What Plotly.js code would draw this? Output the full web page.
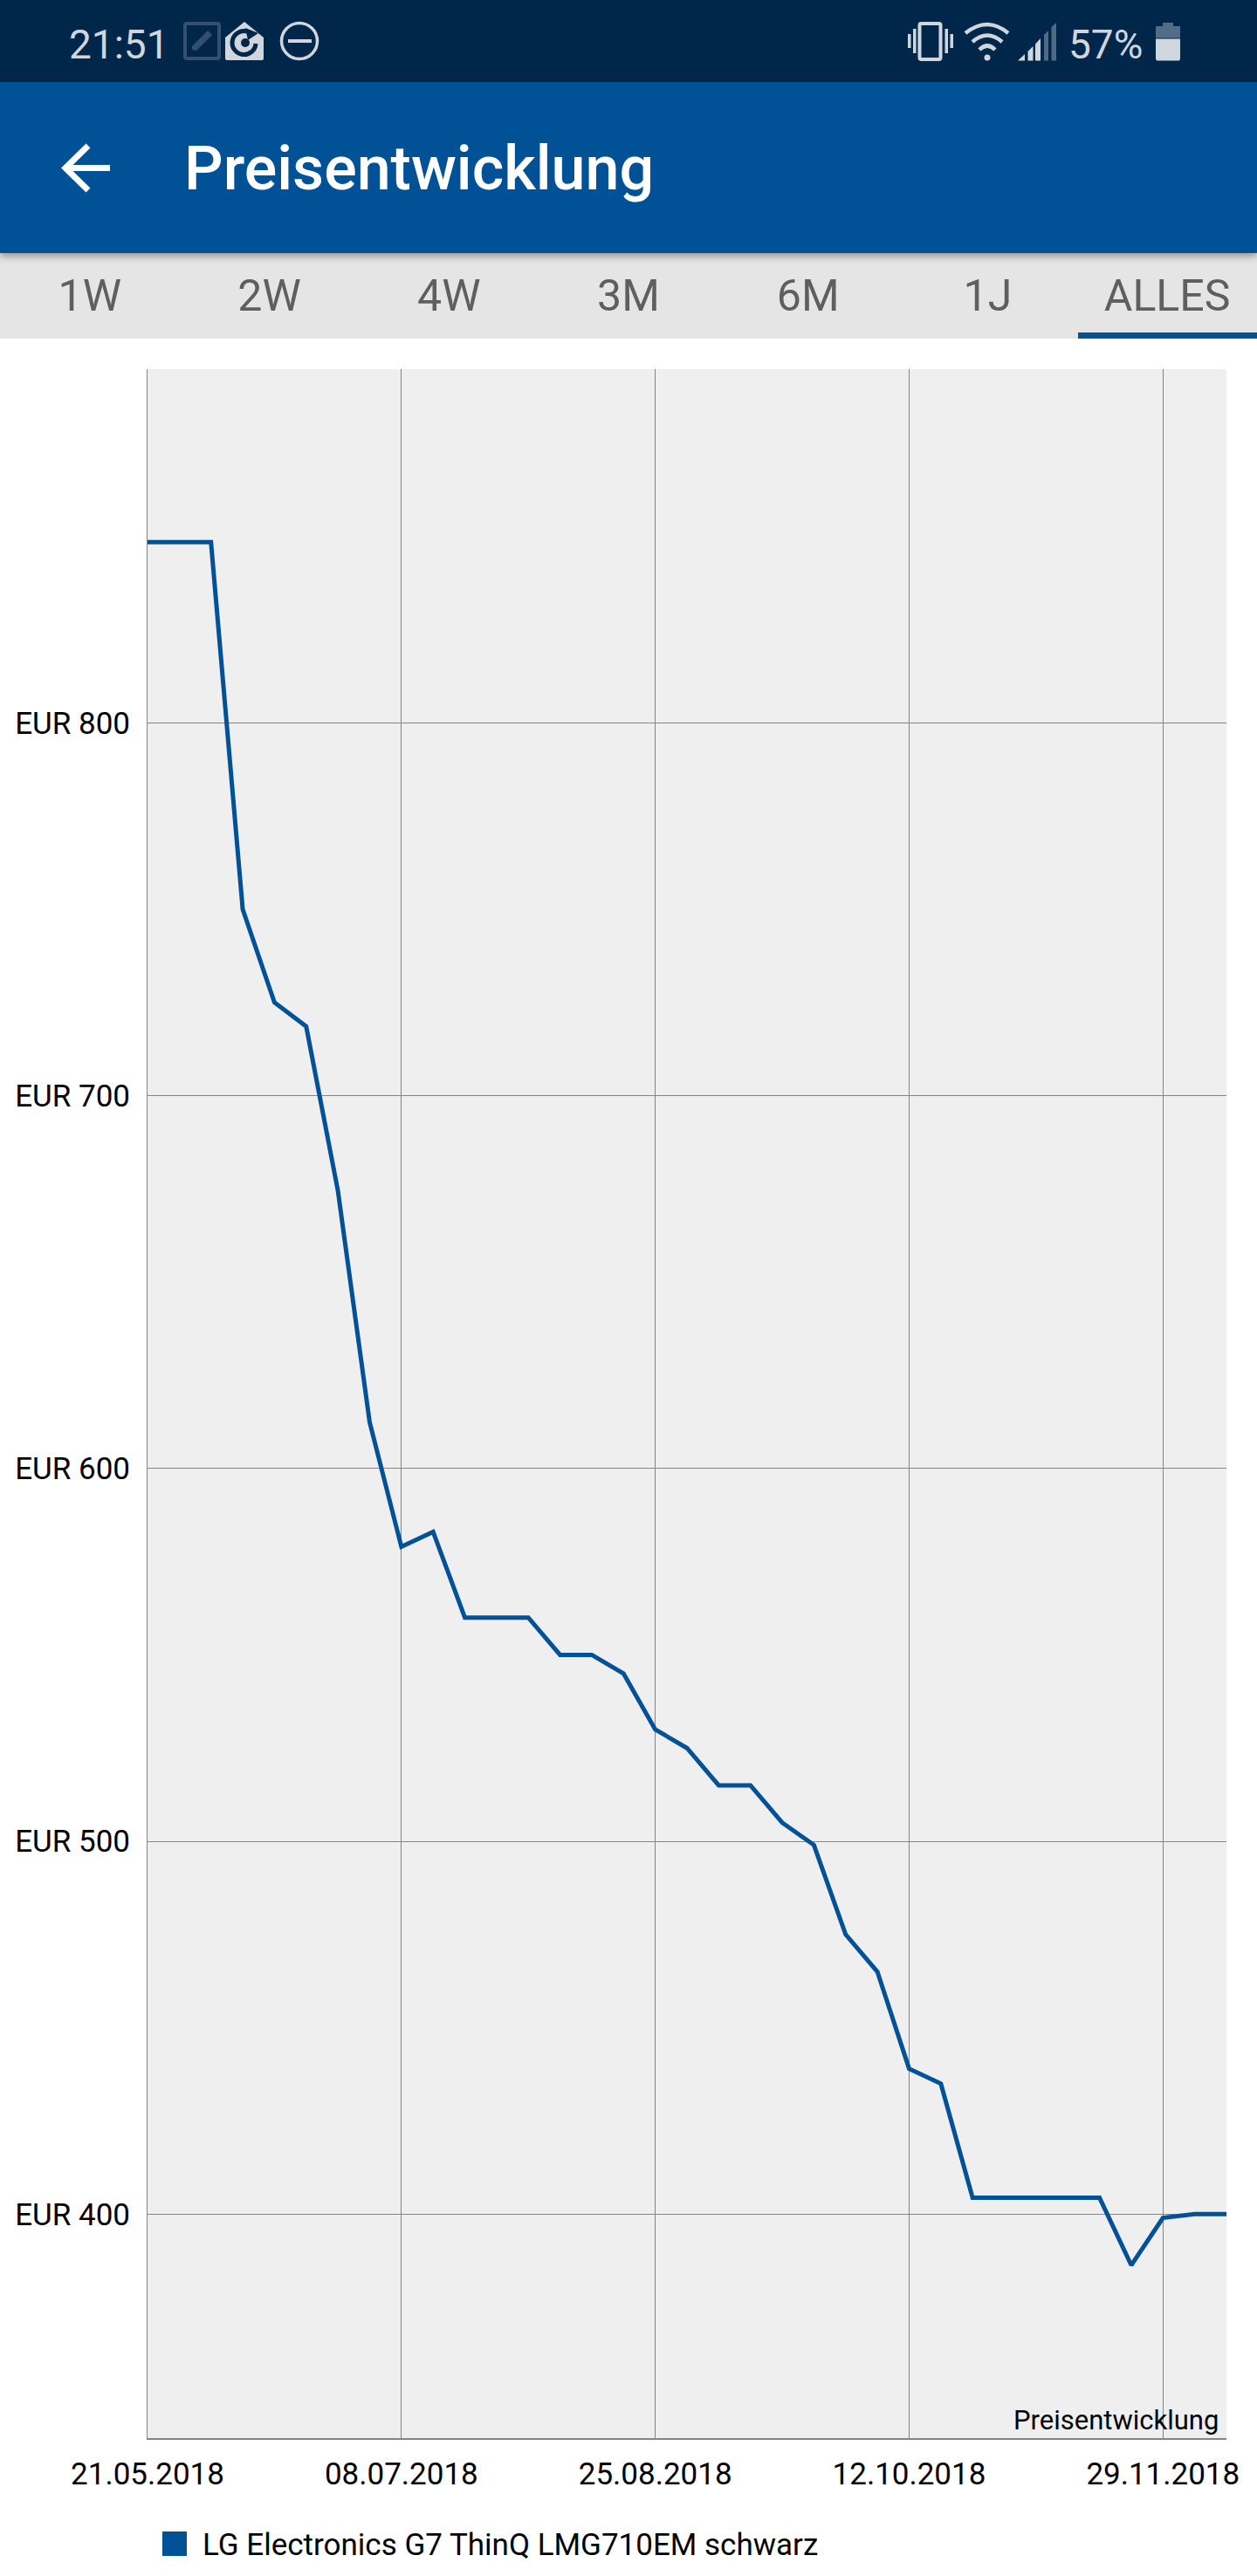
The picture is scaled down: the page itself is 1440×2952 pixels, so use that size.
<!DOCTYPE html>
<html lang="de">
<head>
<meta charset="utf-8">
<script src="https://cdn.plot.ly/plotly-3.0.1.min.js"></script>
<style>
html,body{margin:0;padding:0;background:#fff;width:1440px;height:2952px;overflow:hidden;font-family:Roboto,sans-serif}
.abs{position:absolute}
#status{left:0;top:0;width:1440px;height:94px;background:#00264a;z-index:3}
#bar{left:0;top:94px;width:1440px;height:196px;background:#005196;box-shadow:0 3px 9px rgba(0,0,0,.4);z-index:2}
#tabs{left:0;top:290px;width:1440px;height:98px;background:#e5e5e5;z-index:1}
.tab{position:absolute;top:0;height:98px;width:205.7px;text-align:center;font-size:50px;line-height:98px;color:#5f5f5f;white-space:nowrap}
#under{position:absolute;right:0;top:91px;width:205px;height:7px;background:#005196}
#title{position:absolute;left:211px;top:54px;color:#fff;font-size:70px;font-weight:500;line-height:90px;white-space:nowrap}
.st{position:absolute;color:#cfd6de;font-size:46px;line-height:54px;top:24px;white-space:nowrap}
#chart{left:0;top:0;width:1440px;height:2952px;z-index:0}
</style>
</head>
<body>
<div id="chart" class="abs"></div>
<div id="status" class="abs">
  <div class="st" style="left:79px">21:51</div>
  <div class="st" style="left:1224px">57%</div>
  <svg width="1440" height="94" style="position:absolute;left:0;top:0">
    <rect x="212" y="27" width="39" height="40" rx="2" fill="none" stroke="#34506d" stroke-width="4"/>
    <path d="M220 57 L220 53 L238 35 L243 40 L225 58 Z" fill="#34506d"/>
    <path d="M258 43 L280 25 L302 43 L302 67 Q302 69 300 69 L260 69 Q258 69 258 67 Z" fill="#cfd6de"/>
    <path d="M293 50 A13.5 13.5 0 1 1 283 36" fill="none" stroke="#00264a" stroke-width="5"/>
    <path d="M281 32 L296 38 L284 46 Z" fill="#00264a"/>
    <circle cx="281" cy="49" r="5" fill="#00264a"/>
    <circle cx="343" cy="47" r="20.5" fill="none" stroke="#cfd6de" stroke-width="3.5"/>
    <rect x="330" y="45" width="27" height="4" fill="#cfd6de"/>
    <rect x="1053.5" y="27" width="24" height="41" rx="2" fill="none" stroke="#cfd6de" stroke-width="4"/>
    <rect x="1040" y="39" width="3.5" height="16" fill="#cfd6de"/><rect x="1046" y="33" width="3.5" height="28" fill="#cfd6de"/>
    <rect x="1082.5" y="33" width="3.5" height="28" fill="#cfd6de"/><rect x="1088.5" y="39" width="3.5" height="16" fill="#cfd6de"/>
    <g fill="none" stroke="#cfd6de" stroke-width="4.5">
      <path d="M1106 38 Q1131 18 1155 38"/><path d="M1114 48 Q1131 33 1148 48"/><path d="M1122 57 Q1131 48 1140 57"/>
    </g>
    <circle cx="1131" cy="66" r="3.5" fill="#cfd6de"/>
    <path d="M1166 69.5 L1174 62 L1174 69.5 Z" fill="#cfd6de"/>
    <path d="M1177.5 69.5 L1177.5 59 L1183.5 53 L1183.5 69.5 Z" fill="#cfd6de"/>
    <path d="M1186 69.5 L1186 50.5 L1192 44 L1192 69.5 Z" fill="#cfd6de"/>
    <path d="M1196 69.5 L1196 40 L1201 35 L1201 69.5 Z" fill="#4f6a85"/>
    <path d="M1204.5 69.5 L1204.5 31 L1210 26 L1210 69.5 Z" fill="#4f6a85"/>
    <path d="M1332 26 L1344 26 L1344 30 L1352 30 L1352 43.5 L1324 43.5 L1324 30 L1332 30 Z" fill="#546d87"/>
    <path d="M1324 44.5 L1352 44.5 L1352 67 Q1352 69.5 1350 69.5 L1326 69.5 Q1324 69.5 1324 67 Z" fill="#cfd6de"/>
  </svg>
</div>
<div id="bar" class="abs">
  <svg width="140" height="196" style="position:absolute;left:0;top:0">
    <path d="M126 98.5 L75 98.5 M101 73 L75 98.5 L101 124" fill="none" stroke="#fff" stroke-width="7"/>
  </svg>
  <div id="title">Preisentwicklung</div>
</div>
<div id="tabs" class="abs"><div id="under"></div></div>
<script>
const tabLabels = ["1W","2W","4W","3M","6M","1J","ALLES"];
const seriesName = "LG Electronics G7 ThinQ LMG710EM schwarz";
const chartNote = "Preisentwicklung";
const dates = ["2018-05-21","2018-05-27","2018-06-02","2018-06-08","2018-06-14","2018-06-20","2018-06-26","2018-07-02","2018-07-08","2018-07-14","2018-07-20","2018-07-26","2018-08-01","2018-08-07","2018-08-13","2018-08-19","2018-08-25","2018-08-31","2018-09-06","2018-09-12","2018-09-18","2018-09-24","2018-09-30","2018-10-06","2018-10-12","2018-10-18","2018-10-24","2018-10-30","2018-11-05","2018-11-11","2018-11-17","2018-11-23","2018-11-29","2018-12-05","2018-12-11"];
const prices = [848.5,848.5,848.5,750,725,718.6,674.5,612.4,579,583,560,560,560,550,550,545,530,525,515,515,505,499,475,465,439,435,404.4,404.4,404.4,404.4,404.4,386.3,399,400,400];
const xTickVals = ["2018-05-21","2018-07-08","2018-08-25","2018-10-12","2018-11-29"];
const xTickText = ["21.05.2018","08.07.2018","25.08.2018","12.10.2018","29.11.2018"];
const yTickVals = [400,500,600,700,800];
const yTickText = ["EUR 400","EUR 500","EUR 600","EUR 700","EUR 800"];

const tabsEl = document.getElementById("tabs");
tabLabels.forEach((t,i)=>{
  const d=document.createElement("div");d.className="tab";d.textContent=t;
  d.style.left=(i*1440/7)+"px";tabsEl.appendChild(d);
});

const grid="#858585", blue="#005196";
Plotly.newPlot("chart",[{
  type:"scatter",mode:"lines",x:dates,y:prices,name:seriesName,
  line:{color:blue,width:5,shape:"linear",simplify:false},showlegend:false,hoverinfo:"skip"
}],{
  width:1440,height:2952,
  margin:{l:169,r:35,t:423,b:158,pad:0},
  paper_bgcolor:"rgba(0,0,0,0)",plot_bgcolor:"#efefef",
  font:{family:"Roboto, sans-serif",size:35,color:"#000"},
  showlegend:false,
  xaxis:{type:"date",range:["2018-05-21","2018-12-11"],tickmode:"array",tickvals:xTickVals,ticktext:xTickText,
    showgrid:true,gridcolor:grid,gridwidth:1,zeroline:false,showline:true,linecolor:grid,linewidth:2,ticks:"",
    tickfont:{size:35,color:"#000",family:"Roboto, sans-serif"},ticklabelstandoff:9,automargin:false,fixedrange:true},
  yaxis:{range:[339.9,894.9],tickmode:"array",tickvals:yTickVals,ticktext:yTickText,
    showgrid:true,gridcolor:grid,gridwidth:1,zeroline:false,showline:true,linecolor:grid,linewidth:1,ticks:"",
    tickfont:{size:35,color:"#000",family:"Roboto, sans-serif"},ticklabelstandoff:12,automargin:false,fixedrange:true},
  shapes:[{type:"rect",xref:"paper",yref:"paper",x0:17/1236,x1:45/1236,y0:-107/2371,y1:-135/2371,fillcolor:blue,line:{width:0}}],
  annotations:[
    {xref:"paper",yref:"paper",x:1,y:0,xanchor:"right",yanchor:"bottom",xshift:-7,yshift:0,text:chartNote,showarrow:false,font:{size:31,color:"#000"}},
    {xref:"paper",yref:"paper",x:61/1236,y:-122/2371,xanchor:"left",yanchor:"middle",text:seriesName,showarrow:false,font:{size:35,color:"#000"}}
  ]
},{staticPlot:true,displayModeBar:false});
</script>
</body>
</html>
